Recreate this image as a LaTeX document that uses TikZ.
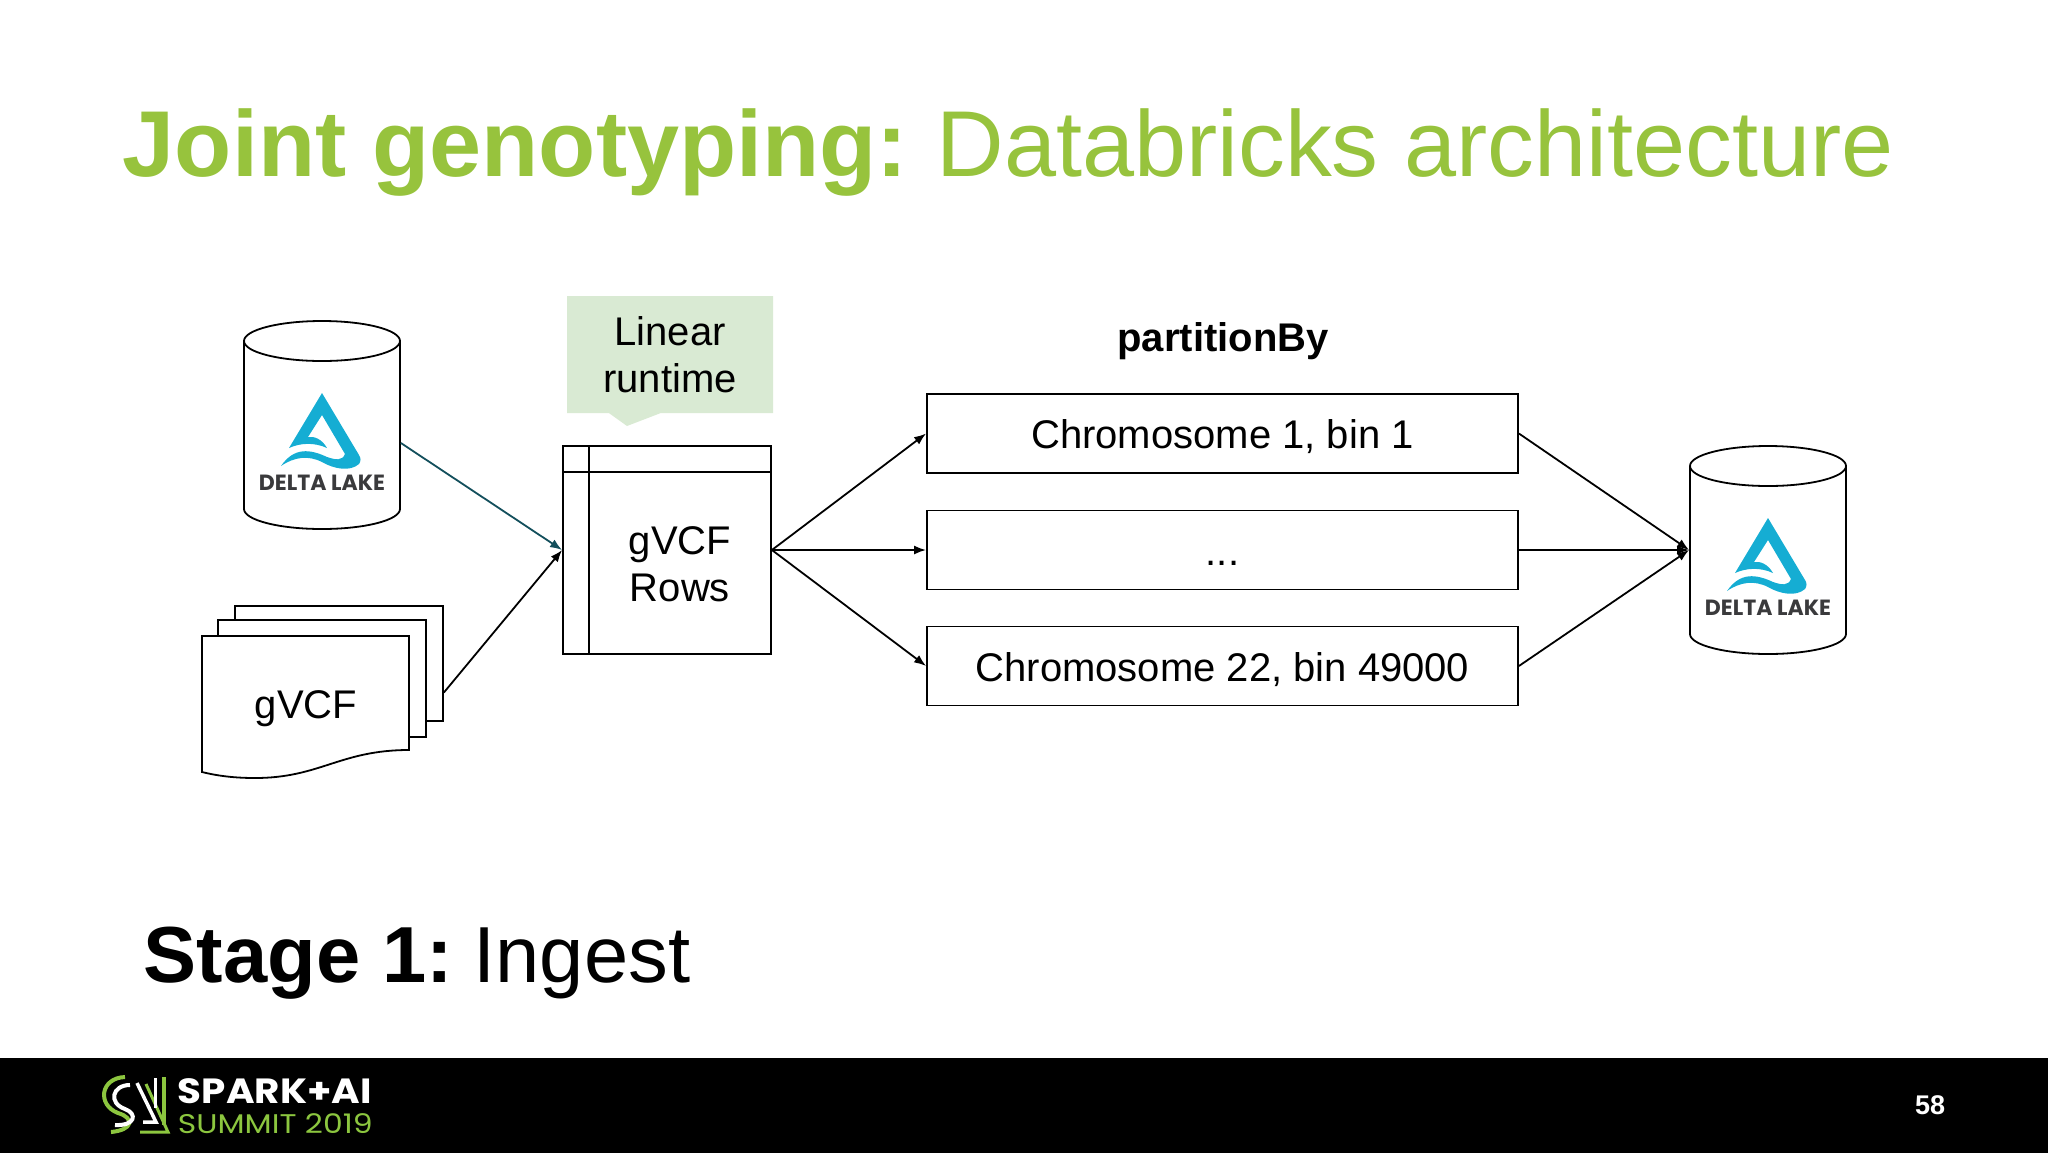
\documentclass[tikz,border=0pt]{standalone}
\usepackage{fontspec}
\setmainfont{Liberation Sans}
\newfontfamily\logofont{Poppins}
\usepackage{tikz}
\usetikzlibrary{shapes.callouts,arrows.meta}
\definecolor{sparkgreen}{HTML}{97C33D}
\definecolor{footgreen}{HTML}{8CC63F}
\definecolor{notegreen}{HTML}{D9EAD3}
\definecolor{deltablue}{HTML}{15ADD3}
\definecolor{deltagrey}{HTML}{3A3A3C}
\definecolor{linkblue}{HTML}{134F5C}

\begin{document}
\begin{tikzpicture}[
    x=1pt,y=-1pt,
    line width=1.8pt,
    % define styles
    body/.style={
        font=\fontsize{40}{47}\selectfont,
        align=center,
        inner sep=0pt
    },
    link/.style={
        -{Latex[length=12pt,width=9pt]}
    },
    drumbox/.style={
        minimum width=156pt,
        minimum height=208pt,
        inner sep=0pt
    },
    bin/.style={
        draw,
        body,
        text height=38pt,
        text depth=8pt,
        minimum width=591pt,
        minimum height=79pt
    },
    sheet/.style={
        draw,
        fill=white,
        minimum width=208pt,
        inner sep=0pt
    },
    drum/.pic={
        \draw (0,-84) ellipse (78 and 20);
        \draw (-78,-84) -- (-78,84)
            .. controls (-78,95) and (-43,104) .. (0,104)
            .. controls (43,104) and (78,95) .. (78,84) -- (78,-84);
        \fill[deltablue] (0,-32) -- (-33,23)
            .. controls (-22,18) and (-8,17) .. (5,23)
            .. controls (0,14) and (-8,11) .. (-14,12)
            -- (0,-10) -- (23,29)
            .. controls (20,36) and (14,35) .. (5,32)
            .. controls (-12,24) and (-28,22) .. (-41,41)
            .. controls (-28,32) and (-14,30) .. (0,37)
            .. controls (12,44) and (28,47) .. (37,39)
            .. controls (39,36) and (39,33) .. (37,30)
            -- cycle;
        \node[font=\logofont\bfseries\fontsize{22}{23}\selectfont,text=deltagrey,inner sep=0pt] (-label) at (0,58) {DELTA LAKE};
    }
]
\useasboundingbox (0,0) rectangle (2048,1152);

% Title and stage
\node[anchor=base west,inner sep=0pt,text=sparkgreen,font=\fontsize{93.6}{110}\selectfont] (title) at (122,176) {\textbf{Joint genotyping:}\hspace{-6pt} Databricks architecture};
\node[anchor=base west,inner sep=0pt,font=\fontsize{79.5}{90}\selectfont] (stage) at (143,982) {\textbf{Stage 1:}\hspace{-9pt} Ingest};

% Left delta lake
\node[drumbox] (dla) at (322,425) {};
\pic (logoa) at (dla.center) {drum};

% Stack of gVCF files
\node[sheet,minimum height=115pt] (docc) at (339,663.5) {};
\node[sheet,minimum height=117pt] (docb) at (322,678.5) {};
\draw[fill=white] (202,636) -- (409,636) -- (409,750)
    .. controls (340,750) and (320,778) .. (255,778)
    .. controls (235,778) and (218,776) .. (202,772) -- cycle;
\node[body] (doca) at (306,709) {gVCF};

% Note above the table
\node[rectangle callout,fill=notegreen,body,minimum width=206pt,minimum height=117pt,
    callout absolute pointer={(627,426)},callout pointer width=52pt] (note) at (670,354.5) {Linear\\runtime};

% Table of rows
\node[draw,minimum width=208pt,minimum height=208pt,inner sep=0pt] (table) at (667,550) {};
\coordinate (headl) at (563,472);
\coordinate (headr) at (771,472);
\coordinate (colt) at (589,446);
\coordinate (colb) at (589,654);
\draw (headl) -- (headr);
\draw (colt) -- (colb);
\node[body] (rows) at (680,564) {gVCF\\Rows};

% Bins
\node[body,font=\fontsize{40}{47}\selectfont\bfseries] (part) at (1223,341) {partitionBy};
\node[bin] (bina) at (1222.5,433.5) {Chromosome 1, bin 1};
\node[bin] (binb) at (1222.5,550) {...};
\node[bin] (binc) at (1222.5,666) {Chromosome 22, bin 49000};

% Right delta lake
\node[drumbox] (dlb) at (1768,550) {};
\pic (logob) at (dlb.center) {drum};

% Arrows
\draw[link,linkblue] ([yshift=-18pt]dla.east) -- (table.west);
\draw[link] ([yshift=-29pt]docc.east) -- (table.west);
\draw[link] (table.east) -- (bina.west);
\draw[link] (table.east) -- (binb.west);
\draw[link] (table.east) -- (binc.west);
\draw[link] (bina.east) -- (dlb.west);
\draw[link] (binb.east) -- (dlb.west);
\draw[link] (binc.east) -- (dlb.west);

% Footer
\node[fill=black,minimum width=2056pt,minimum height=100pt,inner sep=0pt,anchor=north west] (foot) at (-4,1057) {};
\node[text=white,font=\bfseries\fontsize{27}{30}\selectfont,inner sep=0pt] (page) at (1930,1105) {58};
\node[anchor=base west,inner sep=0pt,text=white,font=\logofont\bfseries\fontsize{35}{36}\selectfont] (spark) at (177,1103) {\scalebox{1.11}[1]{SPARK+AI}};
\node[anchor=base west,inner sep=0pt,text=footgreen,font=\logofont\fontsize{27}{28}\selectfont] (summit) at (177,1133) {\scalebox{1.165}[1]{SUMMIT 2019}};
% Spark logo
\draw[footgreen,line width=4pt] (125,1077) .. controls (100,1078) and (97,1105) .. (118,1113) .. controls (135,1118) and (133,1130) .. (111,1132);
\draw[white,line width=4pt] (130,1085) .. controls (112,1085) and (108,1103) .. (125,1109) .. controls (138,1114) and (135,1126) .. (115,1125);
\draw[white,line width=3.5pt] (137,1083) -- (156,1122) -- (143,1122);
\draw[footgreen,line width=3pt] (146,1084) -- (168,1132) -- (140,1132);
\draw[white,line width=3pt] (155,1078) -- (155,1108);
\draw[footgreen,line width=3.5pt] (164,1077) -- (164,1125);
\end{tikzpicture}
\end{document}
